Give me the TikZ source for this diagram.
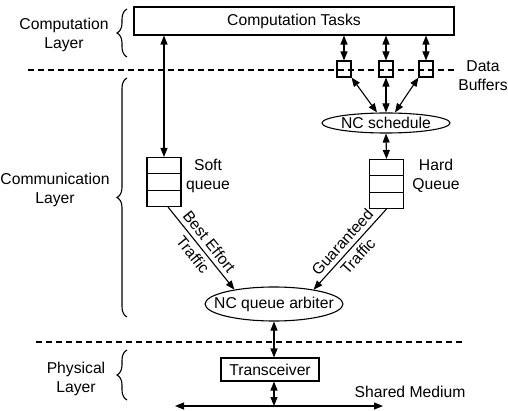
\documentclass[tikz,border=0pt]{standalone}
\usepackage{fontspec}
\setmainfont{Liberation Sans}
\usetikzlibrary{arrows.meta,shapes.geometric,decorations.pathreplacing,calc}
\begin{document}
\begin{tikzpicture}[x=1pt,y=-1pt,
  every node/.style={font=\fontsize{15.7}{19}\selectfont},
  stroke/.style={line width=1.1pt},
  twoway/.style={stroke, {Triangle[length=9pt,width=7pt]}-{Triangle[length=9pt,width=7pt]}},
  oneway/.style={stroke, -{Triangle[length=9pt,width=7pt]}},
  layerline/.style={stroke, dash pattern=on 6pt off 4pt},
  box/.style={draw, stroke, rectangle, inner sep=0pt},
  oval/.style={draw, stroke, ellipse, inner sep=0pt},
  queue/.style={box, minimum width=34pt, minimum height=49pt},
  buffer/.style={box, minimum width=14pt, minimum height=16pt},
  layerbrace/.style={stroke, decorate, decoration={brace, amplitude=10pt}},
  caption/.style={align=center, inner sep=0pt},
]
\useasboundingbox (0,0) rectangle (508,411);

% main blocks
\node[box, minimum width=320pt, minimum height=28pt] (tasks) at (294,21) {Computation Tasks};
\node[buffer] (buf1) at (344,69) {};
\node[buffer] (buf2) at (386,69) {};
\node[buffer] (buf3) at (426,69) {};
\node[oval, minimum width=128pt, minimum height=20pt] (ncs) at (386,123) {NC schedule};
\node[queue] (soft) at (164,182) {};
\node[queue] (hard) at (386.5,184) {};
\node[oval, minimum height=34pt] (arb) at (274,304) {\makebox[97.5pt]{NC queue arbiter}};
\node[box, minimum width=98pt, minimum height=23pt] (trx) at (270,369.5) {Transceiver};

% queue slots
\foreach \q in {soft,hard}
  \foreach \f in {0.3333,0.6667}
    \draw[stroke] ($(\q.north west)!\f!(\q.south west)$) -- ($(\q.north east)!\f!(\q.south east)$);

% layer separators
\draw[layerline] (28,70) -- (455,70);
\draw[layerline] (36,342) -- (465,342);

% layer braces and names
\draw[layerbrace] (127,57) -- (127,9);
\draw[layerbrace] (127,317) -- (127,78);
\draw[layerbrace] (127,400) -- (127,350);
\node[caption] (complayer) at (64,35) {Computation\\Layer};
\node[caption] (commlayer) at (55,190) {Communication\\Layer};
\node[caption] (phylayer) at (76,379) {Physical\\Layer};

% other labels
\node[caption] (databuf) at (483,76) {Data\\Buffers};
\node[caption] (softlbl) at (208,175.5) {Soft\\queue};
\node[caption] (hardlbl) at (436,176) {Hard\\Queue};
\node (medlbl) at (410,392) {Shared Medium};

% connectors
\draw[twoway] (soft.north) -- (soft.north |- tasks.south);
\foreach \b in {buf1,buf2,buf3}
  \draw[twoway] (\b.north) -- (\b.north |- tasks.south);
\draw[twoway] (buf1.south east) -- ([xshift=-9pt]ncs.north);
\draw[twoway] (buf2.south) -- (ncs.north);
\draw[twoway] (buf3.south west) -- ([xshift=9pt]ncs.north);
\draw[twoway] (ncs.south) -- (hard.north);
\draw[oneway] ([xshift=4pt]soft.south) -- node[sloped, caption] {Best Effort\\[2pt]Traffic} (arb.160);
\draw[oneway] (hard.south) -- node[sloped, caption] {Guaranteed\\[2pt]Traffic} (arb.20);
\draw[twoway] (arb.south) -- (arb.south |- trx.north);
\coordinate (medL) at (175,406);
\coordinate (medR) at (383,406);
\draw[twoway] (medL) -- (medR);
\draw[twoway] (arb.south |- trx.south) -- (arb.south |- medL);
\end{tikzpicture}
\end{document}
